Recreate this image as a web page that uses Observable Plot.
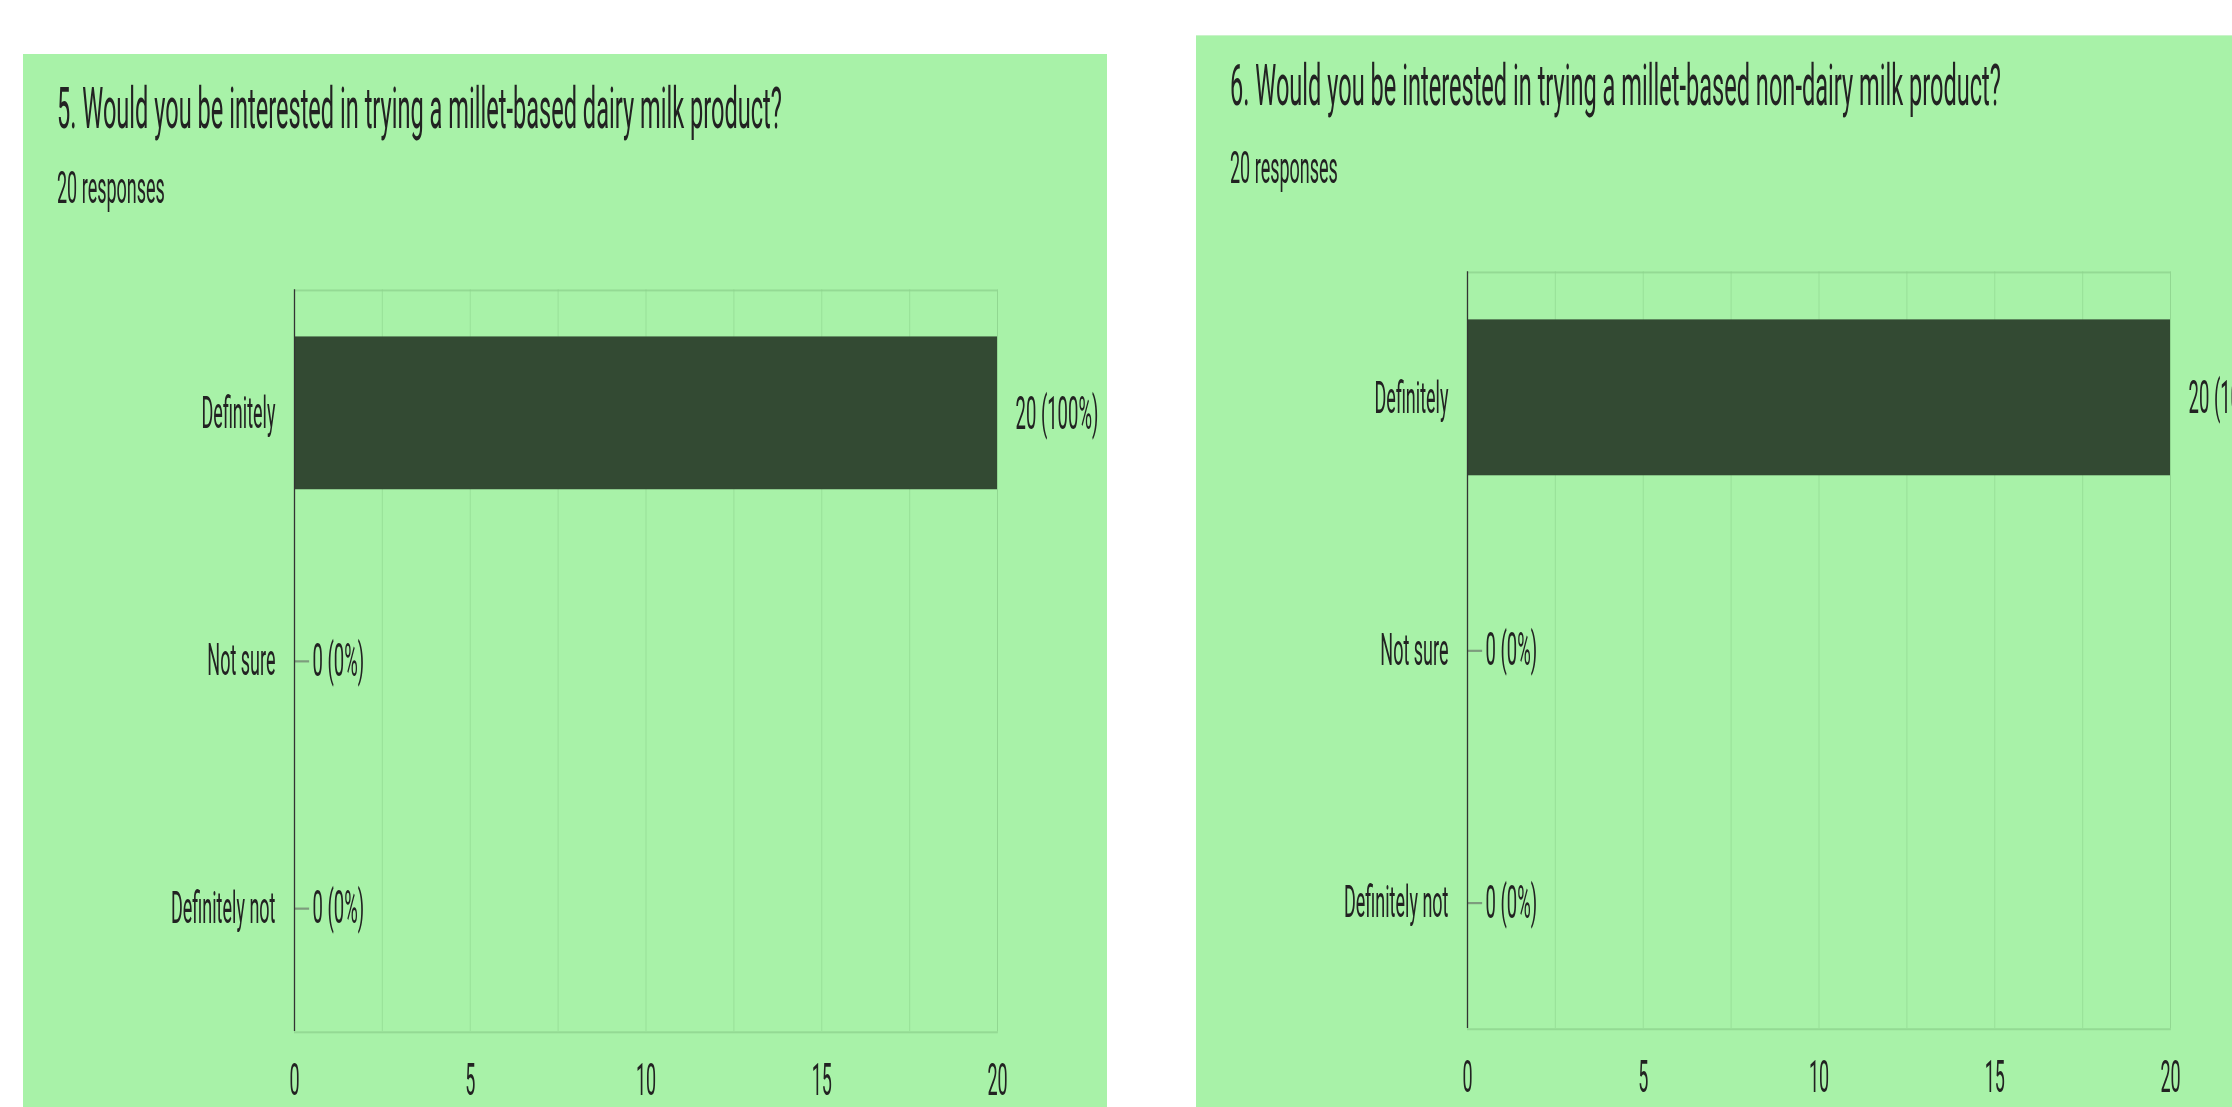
<!DOCTYPE html>
<html>
<head>
<meta charset="utf-8">
<script src="https://cdn.jsdelivr.net/npm/d3@7"></script>
<script src="https://cdn.jsdelivr.net/npm/@observablehq/plot@0.6"></script>
<style>
  html, body { margin: 0; padding: 0; background: #ffffff; }
  body { width: 2232px; height: 1107px; overflow: hidden; position: relative; font-family: Roboto, "Noto Sans", sans-serif; }
  .panel { position: absolute; width: 1084px; height: 1120px; background: #a8f2a8; overflow: hidden; }
  .inner { position: absolute; left: 0; top: 0; width: 1084px; transform: scaleY(2.45); transform-origin: 0 0; }
  .title { position: absolute; left: 34px; font-size: 23.6px; line-height: 1; color: #222; white-space: nowrap; }
  .sub { position: absolute; left: 34px; font-size: 18px; line-height: 1; color: #222; white-space: nowrap; }
  .chart { position: absolute; left: 0; }
</style>
</head>
<body>
<div id="p5" class="panel" style="left:23px; top:54px;">
  <div class="inner">
    <div class="title" style="top:10.9px;"></div>
    <div class="sub" style="top:45.5px;"></div>
    <div class="chart" style="top:80px;"></div>
  </div>
</div>
<div id="p6" class="panel" style="left:1196px; top:35px; border-top:1px solid #c9f3c9;">
  <div class="inner">
    <div class="title" style="top:9.4px;"></div>
    <div class="sub" style="top:44.7px;"></div>
    <div class="chart" style="top:80px;"></div>
  </div>
</div>
<script>
// ---- data ----
const answers = ["Definitely", "Not sure", "Definitely not"];
const countsQ5 = [20, 0, 0];
const countsQ6 = [20, 0, 0];
const titleQ5 = "5. Would you be interested in trying a millet-based dairy milk product?";
const titleQ6 = "6. Would you be interested in trying a millet-based non-dairy milk product?";
const subtitleQ5 = "20 responses";
const subtitleQ6 = "20 responses";
const gridTicks = [0, 2.5, 5, 7.5, 10, 12.5, 15, 17.5, 20];
const labelTicks = [0, 5, 10, 15, 20];
const xDomain = [0, 20];

function chart(counts, marginBottom) {
  const data = answers.map((a, i) => ({answer: a, value: counts[i]}));
  const total = d3.sum(counts);
  return Plot.plot({
    width: 1084,
    height: 360,
    marginLeft: 271,
    marginRight: 110,
    marginTop: 16,
    marginBottom,
    style: {background: "transparent", fontFamily: "Roboto", fontSize: "18px", color: "#222", overflow: "visible"},
    x: {domain: xDomain},
    y: {domain: answers, paddingInner: 0.382, paddingOuter: 0.191, round: false},
    marks: [
      Plot.gridX(gridTicks, {stroke: "#8cd48c", strokeOpacity: 0.55, strokeWidth: 1}),
      Plot.frame({stroke: "#8fd38f", strokeOpacity: 0.8, strokeWidth: 0.8}),
      Plot.barX(data, {y: "answer", x: "value", fill: "#334a33"}),
      Plot.ruleY(data.filter(d => d.value === 0), {y: "answer", x1: "value", x2: d => d.value + 0.43, stroke: "#7d9c7d", strokeWidth: 0.9}),
      Plot.text(data, {y: "answer", x: "value", text: d => `${d.value} (${Math.round(d.value / total * 100)}%)`, textAnchor: "start", dx: 18, fontSize: 18.5, fill: "#222"}),
      Plot.ruleX([0], {stroke: "#333", strokeWidth: 1.3}),
      Plot.axisY({tickSize: 0, tickPadding: 19, label: null, fontSize: 18, fill: "#222"}),
      Plot.axisX(labelTicks, {tickSize: 0, tickPadding: 13, label: null, fontSize: 18, fill: "#222"})
    ]
  });
}

function fill(id, title, subtitle, counts, mb) {
  const p = document.getElementById(id);
  p.querySelector(".title").textContent = title;
  p.querySelector(".sub").textContent = subtitle;
  p.querySelector(".chart").appendChild(chart(counts, mb));
}
fill("p5", titleQ5, subtitleQ5, countsQ5, 41.2);
fill("p6", titleQ6, subtitleQ6, countsQ6, 35.1);
</script>
</body>
</html>
